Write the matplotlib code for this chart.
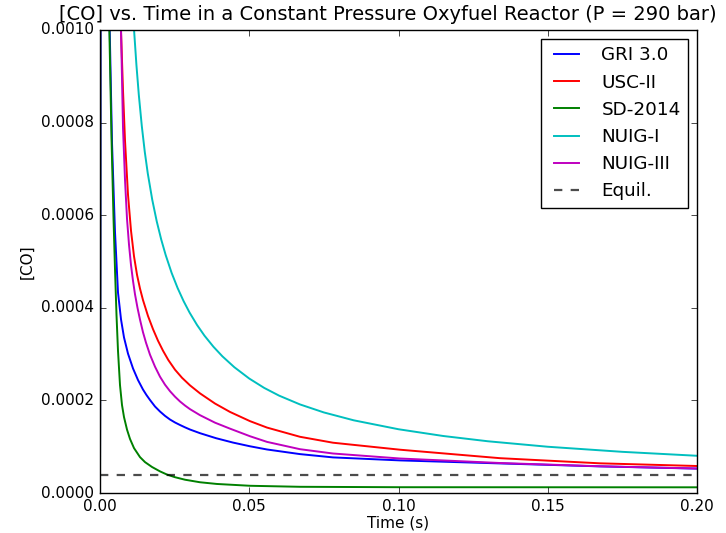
import matplotlib
matplotlib.use("Agg")
import matplotlib.pyplot as plt
from matplotlib.ticker import FormatStrFormatter

plt.style.use('classic')

# Data ([CO] values in units of 1e-4)
t_gri = [0, 0.0004, 0.00325, 0.00402, 0.00469, 0.00503, 0.00603, 0.00704, 0.00804, 0.00938,
         0.01106, 0.01273, 0.0144, 0.01558, 0.01675, 0.01843, 0.0201, 0.02178, 0.02345, 0.02513,
         0.0268, 0.02848, 0.03015, 0.0335, 0.03886, 0.04456, 0.05025, 0.05595, 0.067, 0.07806,
         0.1005, 0.134, 0.1675, 0.2]
co_gri = [0, 30, 10.02, 7.57, 6.27, 5.63, 4.33, 3.75, 3.36, 3.01,
          2.69, 2.44, 2.235, 2.115, 2.009, 1.868, 1.760, 1.666, 1.587, 1.523,
          1.469, 1.418, 1.371, 1.292, 1.184, 1.089, 1.009, 0.940, 0.840, 0.769,
          0.704, 0.639, 0.575, 0.527]

t_usc = [0, 0.0005, 0.00704, 0.00771, 0.00838, 0.00938, 0.01039, 0.01139, 0.0124, 0.0134,
         0.0144, 0.01608, 0.01776, 0.01943, 0.02111, 0.02288, 0.02513, 0.02747, 0.03015, 0.0335,
         0.03853, 0.04355, 0.05025, 0.05595, 0.067, 0.07806, 0.1005, 0.134, 0.1675, 0.2]
co_usc = [0, 30, 9.985, 8.689, 7.609, 6.443, 5.665, 5.114, 4.713, 4.415,
          4.168, 3.823, 3.538, 3.289, 3.073, 2.873, 2.663, 2.489, 2.325, 2.152,
          1.932, 1.751, 1.552, 1.413, 1.214, 1.086, 0.935, 0.752, 0.641, 0.583]

t_sd = [0, 0.0003, 0.00312, 0.00385, 0.00452, 0.00503, 0.00553, 0.00603, 0.0067, 0.00737,
        0.00804, 0.00905, 0.01005, 0.01139, 0.0134, 0.01508, 0.01742, 0.0201, 0.02245, 0.02513,
        0.02848, 0.0335, 0.0392, 0.05025, 0.067, 0.1005, 0.2]
co_sd = [0, 30, 10.05, 7.68, 5.95, 4.82, 3.84, 3.07, 2.33, 1.90,
         1.64, 1.369, 1.168, 0.970, 0.775, 0.667, 0.562, 0.467, 0.398, 0.341,
         0.287, 0.232, 0.195, 0.156, 0.134, 0.125, 0.123]

t_nuig1 = [0, 0.001, 0.01139, 0.0122, 0.013, 0.014, 0.015, 0.016, 0.0175, 0.019,
           0.0205, 0.022, 0.024, 0.026, 0.028, 0.030, 0.0325, 0.035, 0.038, 0.041,
           0.045, 0.05, 0.055, 0.06, 0.067, 0.075, 0.085, 0.1, 0.115, 0.13,
           0.15, 0.175, 0.2]
co_nuig1 = [0, 30, 10.02, 9.246, 8.601, 7.928, 7.369, 6.904, 6.335, 5.869,
            5.477, 5.140, 4.753, 4.427, 4.145, 3.898, 3.630, 3.398, 3.159, 2.952,
            2.717, 2.472, 2.270, 2.103, 1.913, 1.740, 1.570, 1.377, 1.231, 1.117,
            0.999, 0.889, 0.804]

t_nuig3 = [0, 0.0005, 0.00704, 0.00771, 0.00838, 0.00905, 0.00972, 0.01039, 0.01106, 0.01173,
           0.01256, 0.0134, 0.0144, 0.01541, 0.01675, 0.01843, 0.0201, 0.02178, 0.02345, 0.02513,
           0.0268, 0.02848, 0.03015, 0.0335, 0.03853, 0.04355, 0.05025, 0.05595, 0.067, 0.07806,
           0.1005, 0.134, 0.1675, 0.2]
co_nuig3 = [0, 30, 10.0, 7.88, 6.76, 5.92, 5.36, 4.92, 4.58, 4.29,
            4.00, 3.745, 3.473, 3.246, 2.987, 2.728, 2.512, 2.339, 2.199, 2.080,
            1.977, 1.889, 1.811, 1.681, 1.519, 1.390, 1.226, 1.104, 0.946, 0.853,
            0.745, 0.648, 0.577, 0.529]

t_equil = [0, 0.2]
co_equil = [0.389, 0.389]

scale = 1e-4

fig = plt.figure(figsize=(7.26, 5.33), dpi=100)
ax = fig.add_axes([100/726, 1-493/533, 597/726, 463/533])

lw = 1.4
ax.plot(t_gri, [v*scale for v in co_gri], color='b', lw=lw, label='GRI 3.0')
ax.plot(t_usc, [v*scale for v in co_usc], color='r', lw=lw, label='USC-II')
ax.plot(t_sd, [v*scale for v in co_sd], color='g', lw=lw, label='SD-2014')
ax.plot(t_nuig1, [v*scale for v in co_nuig1], color='c', lw=lw, label='NUIG-I')
ax.plot(t_nuig3, [v*scale for v in co_nuig3], color='m', lw=lw, label='NUIG-III')
ax.plot(t_equil, [v*scale for v in co_equil], color='k', alpha=0.7, lw=1.6,
        linestyle='--', label='Equil.')

ax.set_xlim(0, 0.2)
ax.set_ylim(0, 0.001)
ax.xaxis.set_major_formatter(FormatStrFormatter('%.2f'))
ax.yaxis.set_major_formatter(FormatStrFormatter('%.4f'))
ax.set_xticks([0, 0.05, 0.1, 0.15, 0.2])
ax.set_yticks([0, 0.0002, 0.0004, 0.0006, 0.0008, 0.001])
ax.tick_params(labelsize=11)

ax.set_xlabel('Time (s)', fontsize=11, labelpad=1.5)
ax.set_ylabel('[CO]', fontsize=11)
ax.set_title('[CO] vs. Time in a Constant Pressure Oxyfuel Reactor (P = 290 bar)',
             fontsize=14, x=0.4816, pad=7)
ax.legend(loc='upper right', fontsize=13.2, handletextpad=0.9)

fig.savefig('out.png', dpi=100)
